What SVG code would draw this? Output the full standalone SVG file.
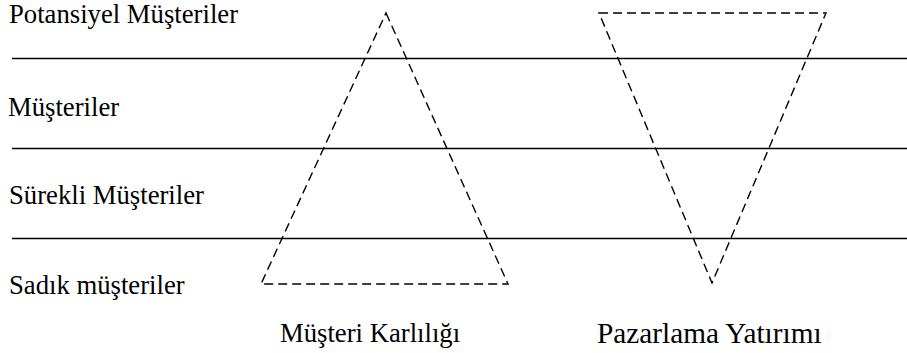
<svg xmlns="http://www.w3.org/2000/svg" width="907" height="353" viewBox="0 0 907 353">
<style>
.t{font-family:"Liberation Serif","Times New Roman",Times,serif;fill:#000}
.lbl{font-size:26.7px}
.cap{font-size:26.7px}
.cap2{font-size:29.3px}
.sep{stroke:#000;stroke-width:1.6;fill:none}
.dash{stroke:#000;stroke-width:1.4;fill:none;stroke-dasharray:9 5}
</style>
<rect width="907" height="353" fill="#fff"/>
<g id="levels">
<line class="sep" x1="12" y1="58.5" x2="907" y2="58.5"/>
<line class="sep" x1="12" y1="148.5" x2="907" y2="148.5"/>
<line class="sep" x1="12" y1="238.5" x2="907" y2="238.5"/>
</g>
<g id="label-potansiyel"><text class="t lbl" x="9" y="23">Potansiyel Müşteriler</text></g>
<g id="label-musteriler"><text class="t lbl" x="8" y="116">Müşteriler</text></g>
<g id="label-surekli"><text class="t lbl" x="9" y="204">Sürekli Müşteriler</text></g>
<g id="label-sadik"><text class="t lbl" x="9" y="294">Sadık müşteriler</text></g>
<g id="triangle-karlilik">
<polygon class="dash" points="386,13 508,284 261,284"/>
<text class="t cap" x="280" y="342">Müşteri Karlılığı</text>
</g>
<g id="triangle-yatirim">
<polygon class="dash" points="599,13 826,13 712,283"/>
<text class="t cap2" x="597" y="343">Pazarlama Yatırımı</text>
</g>
</svg>
